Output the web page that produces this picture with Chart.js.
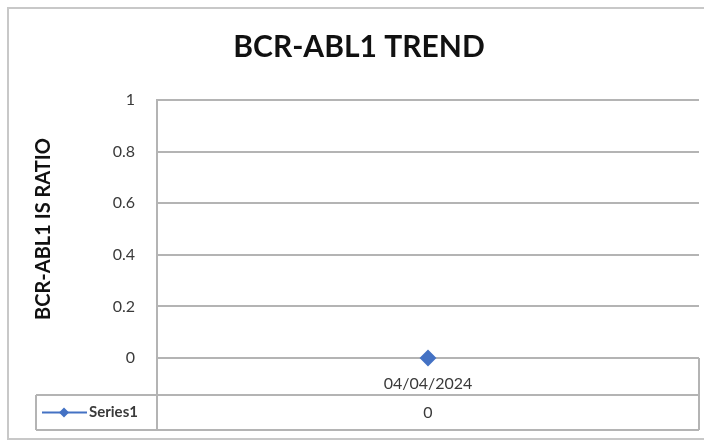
<!DOCTYPE html>
<html>
<head>
<meta charset="utf-8">
<script src="https://cdn.jsdelivr.net/npm/chart.js@4/dist/chart.umd.min.js"></script>
<style>
  html, body { margin: 0; padding: 0; background: #fff; }
  #wrap { width: 704px; height: 443px; position: relative; }
</style>
</head>
<body>
<div id="wrap"><canvas id="c" width="704" height="443"></canvas></div>
<script>
const categories = ['04/04/2024'];
const series1 = [0];
const seriesName = 'Series1';
const yTickValues = [0, 0.2, 0.4, 0.6, 0.8, 1];
const chartTitle = 'BCR-ABL1 TREND';
const yAxisTitle = 'BCR-ABL1 IS RATIO';

const FONT = 'Lato, "Open Sans", sans-serif';
const BLUE = '#4472C4';
const GRID = '#b4b4b4';
const TXT = '#3a3a3a';

const frame = {
  id: 'frame',
  beforeDraw(chart) {
    const ctx = chart.ctx;
    ctx.save();
    ctx.fillStyle = '#fff';
    ctx.fillRect(0, 0, chart.width, chart.height);
    ctx.strokeStyle = '#c8c8c8';
    ctx.lineWidth = 2;
    ctx.strokeRect(8, 8, chart.width, 431);
    ctx.restore();
  }
};

const dataTable = {
  id: 'dataTable',
  afterDraw(chart) {
    const ctx = chart.ctx;
    const xs = chart.scales.x;
    const ca = chart.chartArea;
    const top = ca.bottom;
    const mid = xs.bottom;
    const bot = mid + 35;
    const left = ca.left, right = ca.right;
    const keyLeft = 36;
    ctx.save();
    ctx.strokeStyle = GRID;
    ctx.lineWidth = 2;
    ctx.beginPath();
    ctx.moveTo(left, top); ctx.lineTo(left, bot);
    ctx.moveTo(right, top); ctx.lineTo(right, bot);
    ctx.moveTo(keyLeft, mid); ctx.lineTo(right, mid);
    ctx.moveTo(keyLeft, bot); ctx.lineTo(right, bot);
    ctx.moveTo(keyLeft, mid); ctx.lineTo(keyLeft, bot);
    ctx.stroke();
    const ym = (mid + bot) / 2;
    ctx.strokeStyle = BLUE;
    ctx.lineWidth = 2;
    ctx.beginPath();
    ctx.moveTo(42, ym); ctx.lineTo(87, ym);
    ctx.stroke();
    ctx.fillStyle = BLUE;
    ctx.beginPath();
    const kx = 64, r = 5;
    ctx.moveTo(kx, ym - r); ctx.lineTo(kx + r, ym); ctx.lineTo(kx, ym + r); ctx.lineTo(kx - r, ym);
    ctx.closePath(); ctx.fill();
    ctx.fillStyle = TXT;
    ctx.textBaseline = 'middle';
    ctx.textAlign = 'left';
    ctx.font = 'bold 15px ' + FONT;
    ctx.fillText(seriesName, 89, ym);
    ctx.font = '16px ' + FONT;
    ctx.textAlign = 'center';
    series1.forEach((v, i) => {
      ctx.fillText(String(v), xs.getPixelForValue(i), ym);
    });
    ctx.restore();
  }
};

new Chart(document.getElementById('c'), {
  type: 'line',
  data: {
    labels: categories,
    datasets: [{
      label: seriesName,
      data: series1,
      borderColor: BLUE,
      backgroundColor: BLUE,
      borderWidth: 2,
      pointStyle: 'rectRot',
      pointRadius: 7,
      pointHoverRadius: 7,
      clip: false
    }]
  },
  options: {
    responsive: false,
    animation: false,
    events: [],
    layout: { autoPadding: false, padding: { left: 19, right: 5, top: 8, bottom: 48 } },
    plugins: {
      legend: { display: false },
      tooltip: { enabled: false },
      title: {
        display: true,
        text: chartTitle,
        color: '#111',
        font: { family: FONT, size: 30, weight: 'bold' },
        padding: { top: 21, bottom: 35 }
      }
    },
    scales: {
      x: {
        type: 'category',
        offset: true,
        grid: { display: false },
        border: { display: false },
        ticks: { color: TXT, font: { family: FONT, size: 16 }, padding: 8 },
        afterFit(s) { s.height = 37; s.paddingLeft = 0; s.paddingRight = 0; }
      },
      y: {
        min: 0, max: 1,
        afterBuildTicks(s) { s.ticks = yTickValues.map(v => ({ value: v })); },
        ticks: { color: TXT, font: { family: FONT, size: 16 }, padding: 22,
                 callback: v => String(v) },
        grid: { color: GRID, lineWidth: 2, drawTicks: false },
        border: { display: true, color: GRID, width: 2 },
        title: { display: true, text: yAxisTitle, color: '#111',
                 font: { family: FONT, size: 20, weight: 'bold' }, padding: { top: 13, bottom: 0 } },
        afterFit(s) { s.width = 138; }
      }
    }
  },
  plugins: [frame, dataTable]
});
</script>
</body>
</html>
